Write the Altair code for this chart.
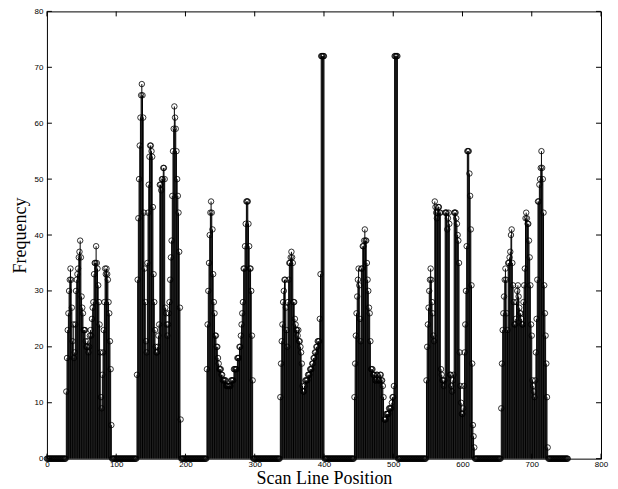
import altair as alt
import pandas as pd

# ---- data (scan line position -> frequency) ----
n_positions = 753  # positions 0..752, zero where no segment

seg1_start = 28
seg1 = [12, 18, 23, 26, 30, 32, 34, 32, 27, 21, 24, 18, 19, 24, 30, 32, 33, 34, 36, 37,
        39, 36, 29, 27, 26, 23, 23, 23, 21, 20, 20, 21, 19, 20, 22, 23, 22, 25, 27, 28,
        33, 35, 35, 38, 35, 34, 31, 28, 24, 19, 11, 9, 15, 19, 23, 28, 34, 33, 34, 33,
        32, 28, 26, 21, 16, 6]

seg2_start = 130
seg2 = [15, 32, 43, 50, 56, 61, 65, 67, 65, 61, 44, 34, 28, 21, 19, 35, 44, 49, 54, 56,
        56, 55, 54, 45, 33, 28, 23, 20, 19, 19, 20, 22, 24, 49, 49, 48, 50, 50, 52, 52,
        50, 27, 26, 24, 22, 24, 26, 28, 32, 36, 39, 47, 55, 59, 63, 61, 59, 55, 50, 47,
        44, 37, 27, 7]

seg3_start = 231
seg3 = [16, 24, 30, 35, 40, 44, 46, 44, 41, 33, 28, 26, 22, 22, 20, 20, 18, 17, 16, 16,
        16, 15, 15, 14, 14, 14, 14, 14, 13, 13, 13, 13, 13, 13, 13, 14, 14, 14, 14, 16,
        16, 16, 16, 16, 18, 18, 18, 20, 20, 22, 24, 26, 28, 34, 34, 38, 42, 46, 46, 46,
        42, 38, 34, 34, 30, 22, 14]

seg4_start = 337
seg4 = [11, 17, 21, 24, 28, 30, 32, 32, 27, 23, 20, 28, 32, 35, 35, 36, 37, 36, 35, 28,
        28, 25, 24, 23, 23, 22, 23, 21, 21, 20, 19, 17, 13, 12, 12, 13, 14, 14, 14, 14, 15,
        15, 15, 16, 16, 16, 17, 17, 18, 18, 19, 19, 20, 20, 21, 21, 21, 25, 33,
        72, 72, 72, 72, 72]

seg5_start = 444
seg5 = [11, 17, 22, 26, 29, 32, 34, 31, 25, 21, 34, 34, 38, 38, 39, 41, 39, 39, 35, 32,
        30, 27, 26, 21, 16, 16, 16, 15, 15, 15, 14, 14, 15, 15, 14, 14, 14, 15, 15, 14, 14, 13,
        11, 7, 7, 7, 8, 8, 8, 8, 9, 9, 9, 9, 10, 11, 11, 13,
        72, 72, 72, 72, 72]

seg6_start = 548
seg6 = [14, 20, 24, 27, 30, 32, 34, 32, 28, 26, 22, 21, 46, 45, 44, 43, 44, 45, 45, 44,
        44, 16, 15, 14, 14, 13, 14, 44, 44, 44, 41, 43, 44, 42, 15, 15, 13, 12, 14, 15,
        44, 44, 44, 43, 42, 40, 39, 35, 19, 13, 10, 8, 8, 9, 13, 19, 24, 30, 38, 55,
        55, 55, 51, 47, 41, 31, 17, 6, 4, 2]

seg7_start = 656
seg7 = [9, 17, 23, 26, 29, 32, 34, 32, 26, 23, 35, 35, 36, 37, 40, 41, 35, 31, 28, 24,
        24, 25, 28, 30, 31, 29, 27, 26, 26, 25, 24, 24, 28, 31, 34, 43, 44, 43, 42, 42,
        39, 36, 31, 24, 22, 14, 13, 12, 11, 14, 19, 25, 32, 46, 46, 49, 50, 52, 55, 52,
        50, 44, 31, 26, 22, 17, 11, 2]

x_tick_values = [0, 100, 200, 300, 400, 500, 600, 700, 800]
y_tick_values = [0, 10, 20, 30, 40, 50, 60, 70, 80]

# ---- build table ----
freq = [0] * n_positions
for start, seg in [(seg1_start, seg1), (seg2_start, seg2), (seg3_start, seg3),
                   (seg4_start, seg4), (seg5_start, seg5), (seg6_start, seg6),
                   (seg7_start, seg7)]:
    for i, v in enumerate(seg):
        freq[start + i] = v
df = pd.DataFrame({"pos": list(range(n_positions)), "freq": freq})

W, H = 555, 448
xs = alt.Scale(domain=[0, 800], nice=False, zero=False)
ys = alt.Scale(domain=[0, 80], nice=False)

axis_common = dict(
    ticks=False, domain=False, grid=False,
    labelFont="Liberation Sans", labelFontSize=8, labelColor="#000",
    titleFont="Liberation Serif", titleFontSize=18, titleFontWeight="normal",
    titleColor="#000", labelOverlap=False, labelFlush=False, labelBound=False,
)

x_axis = alt.Axis(values=x_tick_values, title="Scan Line Position", labelPadding=2,
                  titleX=W / 2, titleY=25, titleAlign="center",
                  titleBaseline="alphabetic", **axis_common)
y_axis = alt.Axis(values=y_tick_values, title="Frequency", labelPadding=4,
                  titleX=-26, titleY=H / 2, titleAngle=270, titleAlign="center",
                  titleBaseline="middle", **axis_common)

base = alt.Chart(df)
stems = base.mark_rule(color="black", strokeWidth=1).encode(
    x=alt.X("pos:Q", scale=xs, axis=x_axis),
    y=alt.Y("freq:Q", scale=ys, axis=y_axis),
    y2=alt.datum(0),
)
markers = base.mark_point(shape="circle", filled=False, color="black", size=30,
                          strokeWidth=0.8, opacity=1, clip=False).encode(
    x=alt.X("pos:Q", scale=xs, axis=x_axis),
    y=alt.Y("freq:Q", scale=ys, axis=y_axis),
)

xt = pd.DataFrame({"tx": x_tick_values})
yt = pd.DataFrame({"ty": y_tick_values})
tick_x_bottom = alt.Chart(xt).mark_rule(color="black", strokeWidth=1).encode(
    x=alt.X("tx:Q", scale=xs, axis=x_axis), y=alt.value(H), y2=alt.value(H - 5))
tick_x_top = alt.Chart(xt).mark_rule(color="black", strokeWidth=1).encode(
    x=alt.X("tx:Q", scale=xs, axis=x_axis), y=alt.value(0), y2=alt.value(5))
tick_y_left = alt.Chart(yt).mark_rule(color="black", strokeWidth=1).encode(
    y=alt.Y("ty:Q", scale=ys, axis=y_axis), x=alt.value(0), x2=alt.value(5))
tick_y_right = alt.Chart(yt).mark_rule(color="black", strokeWidth=1).encode(
    y=alt.Y("ty:Q", scale=ys, axis=y_axis), x=alt.value(W), x2=alt.value(W - 5))

chart = alt.layer(stems, markers, tick_x_bottom, tick_x_top, tick_y_left, tick_y_right).properties(
    width=W, height=H,
    padding={"left": 39, "top": 3, "right": 9, "bottom": 30},
    autosize=alt.AutoSizeParams(type="none"),
    background="white",
).configure_view(stroke="black", strokeWidth=1)

chart.save("out.html", embed_options={"renderer": "svg", "actions": False})
